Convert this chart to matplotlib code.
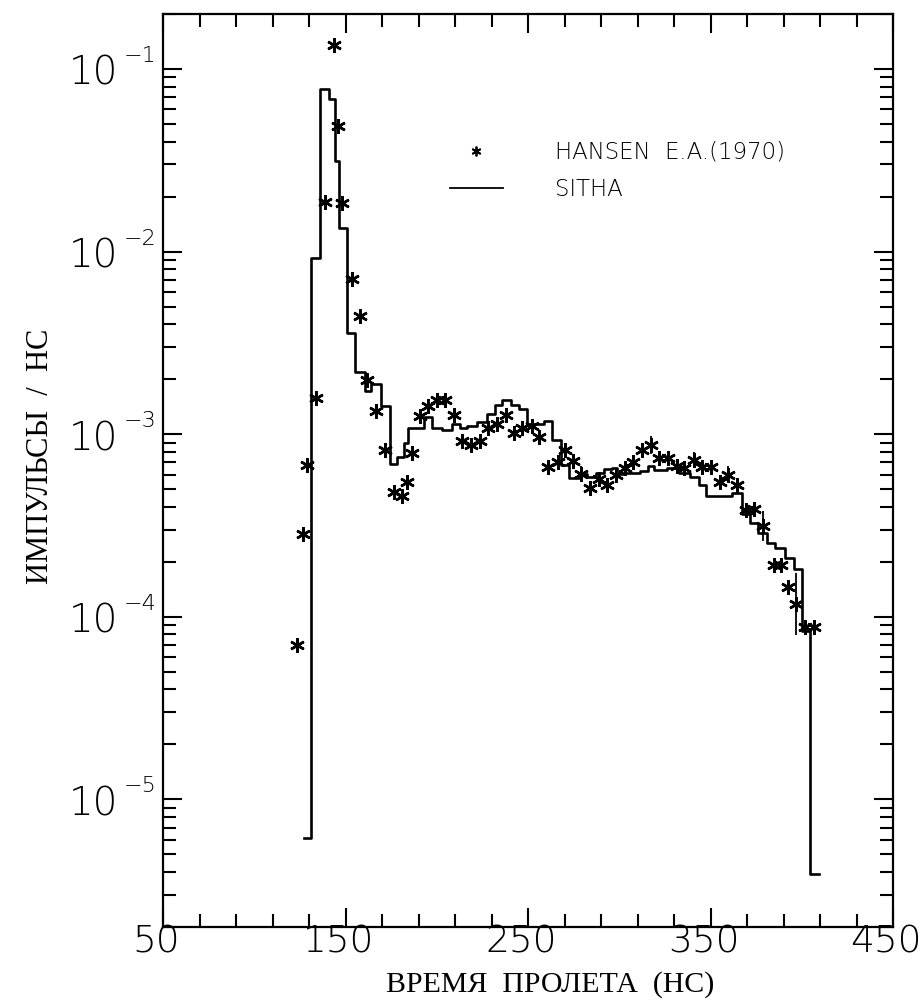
import matplotlib
matplotlib.use('Agg')

import matplotlib.pyplot as plt
from matplotlib.lines import Line2D
from matplotlib.ticker import FixedLocator, LogLocator, NullFormatter
from matplotlib.transforms import blended_transform_factory, ScaledTranslation
import numpy as np


# SITHA histogram: bin edges (ns) and log10 of counts per ns
bin_edges = [127.4, 131.2, 135.8, 140.8, 144.5, 146.7, 150.6, 155.2, 160.5, 163.8,
             169.6, 174.4, 178.4, 182.2, 184.3, 193.0, 197.4, 202.9, 208.4, 212.8,
             216.6, 222.1, 227.5, 231.9, 235.6, 240.6, 245.0, 249.5, 258.8, 263.2,
             268.3, 272.2, 278.2, 282.1, 287.5, 291.9, 296.3, 298.5, 301.8, 311.1,
             315.5, 319.3, 325.9, 333.0, 338.5, 343.5, 347.4, 361.7, 367.3, 371.6,
             376.1, 381.1, 385.5, 391.0, 395.5, 399.9, 404.7, 409.2]
sitha_log = [-5.214, -2.034, -1.110, -1.164, -1.503, -1.869, -2.448, -2.661, -2.764, -2.726,
             -2.846, -3.163, -3.124, -3.048, -2.966, -2.905, -2.965, -2.975, -2.942, -2.964,
             -2.958, -2.931, -2.892, -2.842, -2.815, -2.842, -2.864, -2.945, -2.929, -3.032,
             -3.169, -3.239, -3.217, -3.233, -3.211, -3.189, -3.184, -3.216, -3.210, -3.199,
             -3.172, -3.198, -3.187, -3.214, -3.236, -3.279, -3.339, -3.322, -3.437, -3.486,
             -3.540, -3.595, -3.622, -3.677, -3.737, -4.076, -5.407]

# HANSEN E.A.(1970) experiment
hansen_t = [123.6, 126.6, 129.0, 134.0, 138.9, 143.5, 145.8, 148.0, 153.3, 157.9,
            161.7, 166.8, 171.8, 176.4, 181.2, 183.7, 186.5, 190.7, 195.3, 200.2,
            204.6, 209.5, 213.8, 218.8, 223.8, 228.3, 233.2, 237.9, 242.1, 246.9,
            252.4, 256.3, 260.8, 266.2, 270.4, 274.9, 279.2, 284.2, 288.8, 293.2,
            298.4, 302.9, 307.4, 312.5, 317.4, 322.0, 326.5, 331.5, 335.7, 341.2,
            345.4, 350.4, 355.0, 359.5, 364.5, 369.4, 373.8, 379.0, 384.7, 388.4,
            392.7, 396.8, 401.9, 406.9]
hansen_log = [-4.155, -3.544, -3.171, -2.800, -1.731, -0.869, -1.311, -1.732, -2.149, -2.355,
              -2.704, -2.873, -3.086, -3.314, -3.341, -3.264, -3.104, -2.898, -2.848, -2.812,
              -2.812, -2.896, -3.039, -3.062, -3.038, -2.965, -2.946, -2.896, -2.991, -2.965,
              -2.958, -3.015, -3.178, -3.154, -3.084, -3.149, -3.216, -3.294, -3.243, -3.276,
              -3.225, -3.184, -3.155, -3.088, -3.060, -3.132, -3.132, -3.177, -3.183, -3.141,
              -3.182, -3.182, -3.264, -3.222, -3.276, -3.413, -3.412, -3.503, -3.715, -3.715,
              -3.835, -3.930, -4.055, -4.055]
# error bar half-length in decades (0 = none visible)
hansen_err = [0] * 32 + [0.035, 0, 0, 0, 0.04, 0, 0, 0, 0.04, 0, 0, 0, 0.05, 0, 0, 0, 0,
                          0.045, 0, 0, 0, 0.045, 0, 0, 0, 0.08, 0, 0, 0, 0.17, 0, 0]

x_major = [50, 150, 250, 350, 450]
y_decades = [-5, -4, -3, -2, -1]

plt.rcParams['font.family'] = ['DejaVu Sans']
plt.rcParams['axes.linewidth'] = 1.6

fig = plt.figure(figsize=(9.23, 10.05), dpi=100)
ax = fig.add_axes([163 / 923, 78 / 1005, 730 / 923, 913 / 1005])

sitha = 10 ** np.array(sitha_log)
ax.step(bin_edges, np.append(sitha, sitha[-1]), where='post', color='black', lw=1.9)

hv = 10 ** np.array(hansen_log)
he = np.array(hansen_err)
ax.errorbar(hansen_t, hv, yerr=[hv - hv * 10 ** -he, hv * 10 ** he - hv],
            fmt='none', ecolor='black', elinewidth=1.3, capsize=0)
ax.plot(hansen_t, hv, ls='none', marker=(6, 2, 0), ms=10.5, mew=1.8, color='black')

ax.set_yscale('log')
ax.set_xlim(50, 450)
ax.set_ylim(2e-6, 0.2)

ax.xaxis.set_major_locator(FixedLocator(x_major))
ax.xaxis.set_minor_locator(FixedLocator(np.arange(50, 451, 20)))
ax.yaxis.set_major_locator(FixedLocator([10.0 ** e for e in y_decades]))
ax.yaxis.set_minor_locator(LogLocator(base=10, subs=np.arange(2, 10)))
ax.yaxis.set_major_formatter(NullFormatter())
ax.yaxis.set_minor_formatter(NullFormatter())

ax.tick_params(which='both', direction='in', top=True, right=True, width=1.5)
ax.tick_params(which='major', length=14)
ax.tick_params(which='minor', length=9.5)
ax.tick_params(axis='x', which='major', pad=-2, labelsize=27)
left = ScaledTranslation(-0.07, 0, fig.dpi_scale_trans)
for lab in ax.get_xticklabels():
    lab.set_fontweight(200)
    lab.set_transform(lab.get_transform() + left)

# y tick labels: "10" with a separate exponent
blend = blended_transform_factory(ax.transAxes, ax.transData)
down = ScaledTranslation(0, -0.05, fig.dpi_scale_trans)
up = ScaledTranslation(0, 0.13, fig.dpi_scale_trans)
for e in y_decades:
    ax.text(-0.062, 10.0 ** e, '10', transform=blend + down, ha='right', va='center',
            fontsize=28, fontweight=200)
    ax.text(-0.054, 10.0 ** e, '\u2212' + str(-e), transform=blend + up, ha='left',
            va='center', fontsize=16, fontweight=200)

ax.set_xlabel('ВРЕМЯ  ПРОЛЕТА  (НС)', fontsize=21.5, family='Liberation Serif')
ax.xaxis.label.set_va('center')
ax.xaxis.set_label_coords(0.53, -0.0635)
ax.set_ylabel('ИМПУЛЬСЫ  /  НС', fontsize=22, family='Liberation Serif')
ax.yaxis.label.set_va('center')
ax.yaxis.set_label_coords(-0.168, 0.516)

handles = [Line2D([], [], ls='none', marker=(6, 2, 0), ms=7, mew=1.3, color='black'),
           Line2D([], [], color='black', lw=1.3)]
ax.legend(handles, ['HANSEN  E.A.(1970)', 'SITHA'], loc='upper left',
          bbox_to_anchor=(0.393, 0.861), frameon=False, prop={'size': 16.5, 'weight': 200},
          handlelength=2.3, handletextpad=2.3, labelspacing=0.6,
          borderpad=0, borderaxespad=0)

fig.savefig('out.png', dpi=100)
